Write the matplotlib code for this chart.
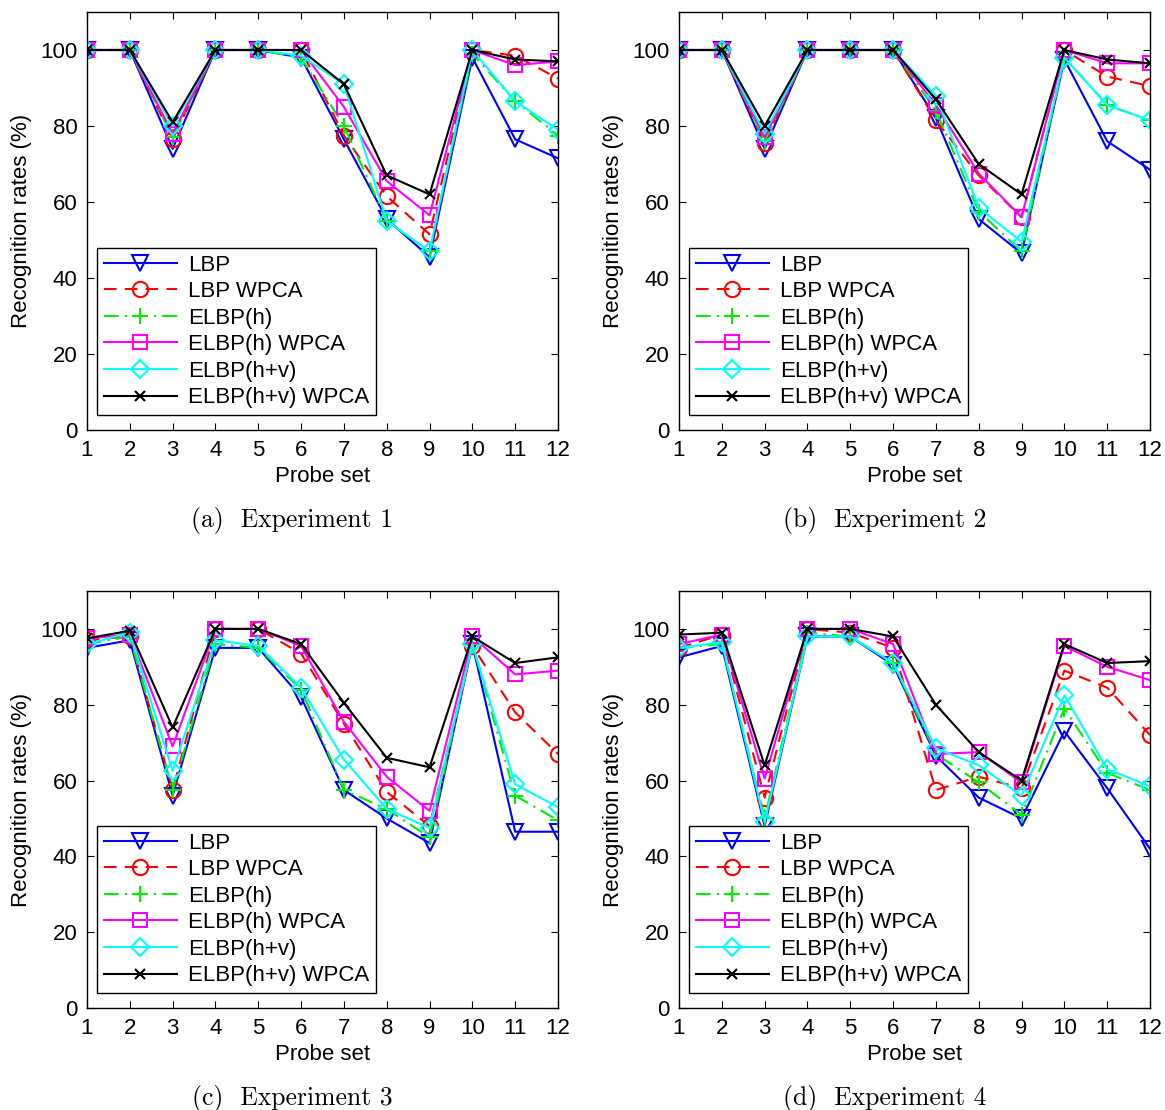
import matplotlib
matplotlib.use("Agg")
import matplotlib.pyplot as plt

plt.rcParams["font.family"] = ["Liberation Sans", "DejaVu Sans"]

probe_sets = list(range(1, 13))
series_names = ["LBP", "LBP WPCA", "ELBP(h)", "ELBP(h) WPCA", "ELBP(h+v)", "ELBP(h+v) WPCA"]
captions = ["(a)  Experiment 1", "(b)  Experiment 2", "(c)  Experiment 3", "(d)  Experiment 4"]

# Experiment 1
exp1_lbp = [100, 100, 74, 100, 100, 98, 76.5, 55.5, 45.5, 98, 76.5, 71.5]
exp1_lbp_wpca = [100, 100, 76.5, 100, 100, 100, 77.5, 61.5, 51.5, 100, 98.5, 92.5]
exp1_elbp_h = [100, 100, 77, 100, 100, 98, 80, 55, 47, 99, 86.5, 77.5]
exp1_elbp_h_wpca = [100, 100, 78, 100, 100, 100, 85, 65.5, 56.5, 100, 96, 97]
exp1_elbp_hv = [100, 100, 80, 100, 100, 98.5, 91, 55, 47, 100, 86.5, 79]
exp1_elbp_hv_wpca = [100, 100, 81, 100, 100, 100, 91, 67, 62, 100, 97.5, 97]

# Experiment 2
exp2_lbp = [100, 100, 74, 100, 100, 100, 82, 55.5, 46.5, 97.5, 76, 68.5]
exp2_lbp_wpca = [100, 100, 75.5, 100, 100, 100, 81.5, 67, 56, 100, 93, 90.5]
exp2_elbp_h = [100, 100, 76, 100, 100, 100, 84, 57.5, 47, 98, 85.5, 81.5]
exp2_elbp_h_wpca = [100, 100, 77, 100, 100, 100, 85.5, 67.5, 56, 100, 96.5, 96.5]
exp2_elbp_hv = [100, 100, 78, 100, 100, 100, 88, 58.5, 49.5, 98, 85.5, 81.5]
exp2_elbp_hv_wpca = [100, 100, 80, 100, 100, 100, 87, 70, 62, 100, 97.5, 96.5]

# Experiment 3
exp3_lbp = [95, 97, 56, 95, 95, 82, 57.5, 50, 43.5, 96, 46.5, 46.5]
exp3_lbp_wpca = [97, 98, 57.5, 100, 100, 93.5, 75, 57, 48, 95.5, 78, 67]
exp3_elbp_h = [96, 98, 57.5, 96, 95, 84, 57.5, 52.5, 45, 96, 56, 49.5]
exp3_elbp_h_wpca = [97.5, 98.5, 69, 100, 100, 95.5, 75.5, 61, 52, 98, 88, 89]
exp3_elbp_hv = [96, 99, 62.5, 97, 95.5, 84.5, 65.5, 52.5, 47.5, 96, 59, 53]
exp3_elbp_hv_wpca = [97.5, 99.5, 74, 100, 100, 96, 80.5, 66, 63.5, 98, 91, 92.5]

# Experiment 4
exp4_lbp = [92.5, 95.5, 48, 98, 98, 90.5, 66.5, 55.5, 50, 73, 58, 42]
exp4_lbp_wpca = [95, 98.5, 55.5, 100, 99, 95, 57.5, 61, 58, 89, 84.5, 72]
exp4_elbp_h = [95, 96, 50, 99, 98, 91, 67, 59.5, 51, 79, 62, 57.5]
exp4_elbp_h_wpca = [96, 98.5, 60.5, 100, 100, 96, 67, 67.5, 59.5, 95.5, 90, 86.5]
exp4_elbp_hv = [95, 96.5, 49, 98, 98, 91, 68.5, 64, 56, 82.5, 63, 58.5]
exp4_elbp_hv_wpca = [98.5, 99, 64, 100, 100, 98, 80, 67.5, 60, 96, 91, 91.5]

experiments = [
    [exp1_lbp, exp1_lbp_wpca, exp1_elbp_h, exp1_elbp_h_wpca, exp1_elbp_hv, exp1_elbp_hv_wpca],
    [exp2_lbp, exp2_lbp_wpca, exp2_elbp_h, exp2_elbp_h_wpca, exp2_elbp_hv, exp2_elbp_hv_wpca],
    [exp3_lbp, exp3_lbp_wpca, exp3_elbp_h, exp3_elbp_h_wpca, exp3_elbp_hv, exp3_elbp_hv_wpca],
    [exp4_lbp, exp4_lbp_wpca, exp4_elbp_h, exp4_elbp_h_wpca, exp4_elbp_hv, exp4_elbp_hv_wpca],
]

styles = [
    dict(color="#0000ff", marker="v", linestyle="-", markersize=12),
    dict(color="#ff0000", marker="o", linestyle=(0, (6, 4)), markersize=11),
    dict(color="#00ee00", marker="+", linestyle=(0, (7, 3, 1, 3)), markersize=12),
    dict(color="#ff00ff", marker="s", linestyle="-", markersize=10),
    dict(color="#00ffff", marker="D", linestyle="-", markersize=9),
    dict(color="#000000", marker="x", linestyle="-", markersize=7),
]

W, H = 1165, 1110
fig = plt.figure(figsize=(W / 100, H / 100), dpi=100)

# axes boxes in pixels: left, top, width, height
boxes = [(87, 12, 471, 418), (679, 12, 471, 418), (87, 591, 471, 417), (679, 591, 471, 417)]
caption_xy = [(292, 520), (885, 520), (292, 1098), (885, 1098)]

for i, (data, box) in enumerate(zip(experiments, boxes)):
    l, t, w, h = box
    ax = fig.add_axes([l / W, 1 - (t + h) / H, w / W, h / H])
    for vals, name, st in zip(data, series_names, styles):
        ax.plot(probe_sets, vals, label=name, linewidth=1.5,
                markerfacecolor="none", markeredgewidth=1.5, **st)
    ax.set_xlim(1, 12)
    ax.set_ylim(0, 110)
    ax.set_xticks(probe_sets)
    ax.set_yticks(range(0, 101, 20))
    ax.tick_params(direction="in", top=True, right=True, labelsize=16, length=5, pad=7)
    ax.set_xlabel("Probe set", fontsize=16, labelpad=4)
    ax.set_ylabel("Recognition rates (%)", fontsize=16, labelpad=6)
    for sp in ax.spines.values():
        sp.set_linewidth(1.0)
    leg = ax.legend(loc="lower left", bbox_to_anchor=(10 / w, 15 / h), borderaxespad=0,
                    fontsize=16, handlelength=3.3, labelspacing=0.25, fancybox=False,
                    framealpha=1, edgecolor="black", borderpad=0.3, handletextpad=0.5)
    leg.get_frame().set_linewidth(1.0)
    cx, cy = caption_xy[i]
    fig.text(cx / W, 1 - cy / H, captions[i], ha="center", va="center",
             fontsize=18.5, family=["cmr10", "DejaVu Serif"])

fig.savefig("out.png", dpi=100)
